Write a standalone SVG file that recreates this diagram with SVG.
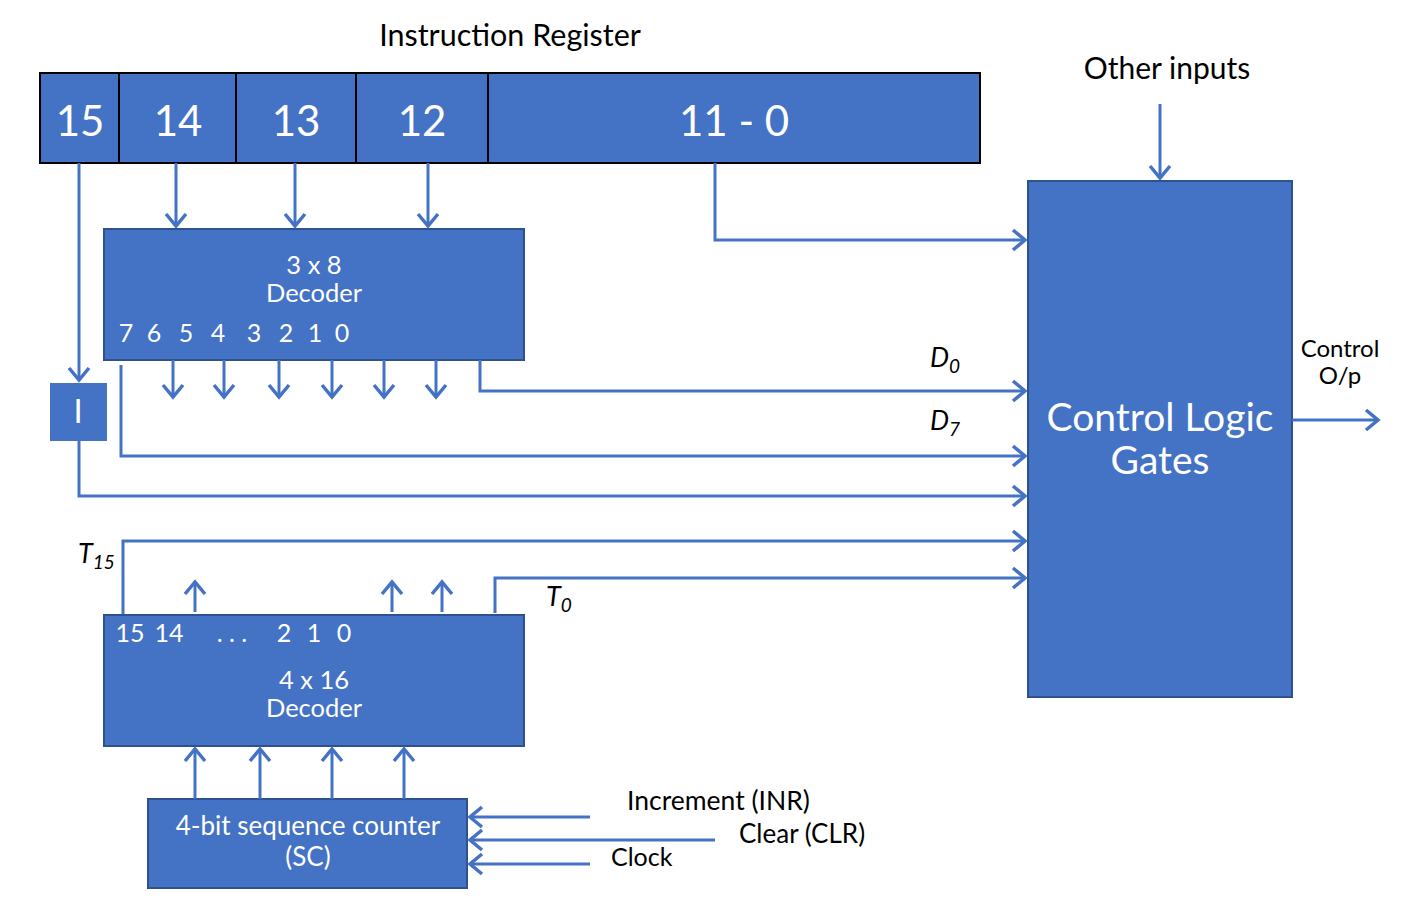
<svg xmlns="http://www.w3.org/2000/svg" width="1411" height="924" viewBox="0 0 1411 924">
<style>
.box{fill:#4472C4;stroke:#2F528F;stroke-width:2}
.reg{fill:#4472C4;stroke:#000;stroke-width:2}
.w{fill:#fff;font-family:Lato,"Liberation Sans",sans-serif;text-anchor:middle}
.k{fill:#000;font-family:Lato,"Liberation Sans",sans-serif}
.ln{fill:none;stroke:#4472C4;stroke-width:3}
.a{marker-end:url(#ah)}
</style>
<defs>
<marker id="ah" markerWidth="8" markerHeight="8" viewBox="0 0 8 8" refX="7" refY="4" orient="auto" markerUnits="userSpaceOnUse" overflow="visible">
<path d="M-5,-6 L7,4 L-5,14" fill="none" stroke="#4472C4" stroke-width="3.5"/>
</marker>
</defs>
<text class="k" x="510" y="46" font-size="30.5" text-anchor="middle">Instruction Register</text>
<text class="k" x="1167" y="79" font-size="30" text-anchor="middle">Other inputs</text>
<g id="register">
<rect class="reg" x="40" y="73" width="940" height="90"/>
<line x1="119" y1="73" x2="119" y2="163" stroke="#000" stroke-width="2"/>
<line x1="236" y1="73" x2="236" y2="163" stroke="#000" stroke-width="2"/>
<line x1="356" y1="73" x2="356" y2="163" stroke="#000" stroke-width="2"/>
<line x1="488" y1="73" x2="488" y2="163" stroke="#000" stroke-width="2"/>
<text class="w" x="80" y="136" font-size="42">15</text>
<text class="w" x="178" y="136" font-size="42">14</text>
<text class="w" x="296" y="136" font-size="42">13</text>
<text class="w" x="422" y="136" font-size="42">12</text>
<text class="w" x="734" y="136" font-size="42">11 - 0</text>
</g>
<g id="dec38">
<rect class="box" x="104" y="229" width="420" height="131"/>
<text class="w" x="314" y="274" font-size="25.5">3 x 8</text>
<text class="w" x="314" y="302" font-size="25.5">Decoder</text>
<text class="w" x="126" y="342" font-size="25">7</text>
<text class="w" x="154" y="342" font-size="25">6</text>
<text class="w" x="186" y="342" font-size="25">5</text>
<text class="w" x="218" y="342" font-size="25">4</text>
<text class="w" x="254" y="342" font-size="25">3</text>
<text class="w" x="286" y="342" font-size="25">2</text>
<text class="w" x="315" y="342" font-size="25">1</text>
<text class="w" x="342" y="342" font-size="25">0</text>
</g>
<g id="ibox">
<rect x="50" y="383" width="57" height="58" fill="#4472C4"/>
<text class="w" x="78" y="423" font-size="33">I</text>
</g>
<g id="clg">
<rect class="box" x="1028" y="181" width="264" height="516"/>
<text class="w" x="1160" y="431" font-size="39">Control Logic</text>
<text class="w" x="1160" y="474" font-size="39">Gates</text>
</g>
<g id="dec416">
<rect class="box" x="104" y="615" width="420" height="131"/>
<text class="w" x="130" y="642" font-size="25">15</text>
<text class="w" x="169" y="642" font-size="25">14</text>
<text class="w" x="232" y="642" font-size="25">. . .</text>
<text class="w" x="284" y="642" font-size="25">2</text>
<text class="w" x="314" y="642" font-size="25">1</text>
<text class="w" x="344" y="642" font-size="25">0</text>
<text class="w" x="314" y="689" font-size="25.5">4 x 16</text>
<text class="w" x="314" y="717" font-size="25.5">Decoder</text>
</g>
<g id="sc">
<rect class="box" x="148" y="799" width="319" height="89"/>
<text class="w" x="308" y="835" font-size="26">4-bit sequence counter</text>
<text class="w" x="308" y="866" font-size="26">(SC)</text>
</g>
<g id="labels">
<text class="k" x="1340" y="357" font-size="24" text-anchor="middle">Control</text>
<text class="k" x="1340" y="384" font-size="24" text-anchor="middle">O/p</text>
<text class="k" x="930" y="367" font-size="27" font-style="italic">D<tspan font-size="19" dy="6">0</tspan></text>
<text class="k" x="930" y="430" font-size="27" font-style="italic">D<tspan font-size="19" dy="6">7</tspan></text>
<text class="k" x="78" y="563" font-size="27" font-style="italic">T<tspan font-size="19" dy="6">15</tspan></text>
<text class="k" x="546" y="606" font-size="27" font-style="italic">T<tspan font-size="19" dy="6">0</tspan></text>
<text class="k" x="627" y="810" font-size="26.5">Increment (INR)</text>
<text class="k" x="739" y="843" font-size="26">Clear (CLR)</text>
<text class="k" x="611" y="866" font-size="25">Clock</text>
</g>
<g id="connectors">
<path class="ln a" d="M1160,104 V178"/>
<path class="ln a" d="M79,163 V380"/>
<path class="ln a" d="M176,163 V226"/>
<path class="ln a" d="M295,163 V226"/>
<path class="ln a" d="M428,163 V226"/>
<path class="ln a" d="M715,163 V240 H1025"/>
<path class="ln a" d="M173,360 V397"/>
<path class="ln a" d="M224,360 V397"/>
<path class="ln a" d="M279,360 V397"/>
<path class="ln a" d="M332,360 V397"/>
<path class="ln a" d="M384,360 V397"/>
<path class="ln a" d="M436,360 V397"/>
<path class="ln a" d="M480,360 V391 H1025"/>
<path class="ln a" d="M121,365 V456 H1025"/>
<path class="ln a" d="M79,441 V496 H1025"/>
<path class="ln a" d="M123,614 V541 H1025"/>
<path class="ln a" d="M495,613 V578 H1025"/>
<path class="ln a" d="M195,612 V582"/>
<path class="ln a" d="M392,612 V582"/>
<path class="ln a" d="M442,612 V582"/>
<path class="ln a" d="M1292,420 H1378"/>
<path class="ln a" d="M195,799 V749"/>
<path class="ln a" d="M260,799 V749"/>
<path class="ln a" d="M332,799 V749"/>
<path class="ln a" d="M404,799 V749"/>
<path class="ln a" d="M590,817 H470"/>
<path class="ln a" d="M715,840 H470"/>
<path class="ln a" d="M590,864 H470"/>
</g>
</svg>
